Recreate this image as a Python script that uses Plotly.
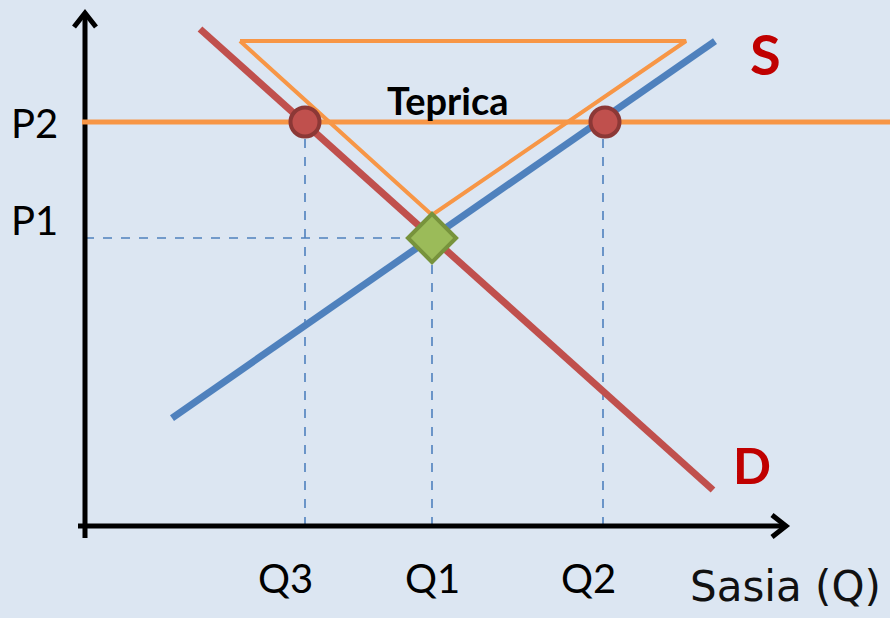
import plotly.graph_objects as go

# Schematic coordinates: quantity to the right, price upward, origin at the axes corner
demand_q = [115, 628]
demand_p = [497, 36]
supply_q = [87, 630]
supply_p = [108, 485]

p_levels = {"P1": 288, "P2": 404}
q_levels = {"Q3": 220, "Q1": 347, "Q2": 518}

p2_line_q = [-3, 805]
triangle_q = [155, 601, 347, 155]
triangle_p = [485, 485, 311, 485]

shortage_q = [220, 520]
equilibrium = (347, 288)

BG = "#dce6f2"
RED = "#c0504d"
BLUE = "#4f81bd"
ORANGE = "#f79646"
FONT = "Lato"

fig = go.Figure()

# dashed guide lines
dash = dict(color=BLUE, width=1.6, dash="dash")
fig.add_trace(go.Scatter(x=[0, q_levels["Q1"]], y=[p_levels["P1"]] * 2, mode="lines", line=dash))
fig.add_trace(go.Scatter(x=[q_levels["Q1"]] * 2, y=[0, p_levels["P1"]], mode="lines", line=dash))
fig.add_trace(go.Scatter(x=[q_levels["Q3"]] * 2, y=[0, p_levels["P2"]], mode="lines", line=dash))
fig.add_trace(go.Scatter(x=[q_levels["Q2"]] * 2, y=[0, p_levels["P2"]], mode="lines", line=dash))

# axes with open arrowheads
axis = dict(color="black", width=5)
fig.add_trace(go.Scatter(x=[0, 0], y=[-12, 513], mode="lines", line=axis))
fig.add_trace(go.Scatter(x=[-11, 0, 11], y=[499, 513, 499], mode="lines", line=axis))
fig.add_trace(go.Scatter(x=[-7, 700], y=[0, 0], mode="lines", line=axis))
fig.add_trace(go.Scatter(x=[687, 701, 687], y=[11, 0, -11], mode="lines", line=axis))

# curves
fig.add_trace(go.Scatter(x=supply_q, y=supply_p, mode="lines", line=dict(color=BLUE, width=7)))
fig.add_trace(go.Scatter(x=demand_q, y=demand_p, mode="lines", line=dict(color=RED, width=7)))
fig.add_trace(go.Scatter(x=p2_line_q, y=[p_levels["P2"]] * 2, mode="lines", line=dict(color=ORANGE, width=5)))
fig.add_trace(go.Scatter(x=triangle_q, y=triangle_p, mode="lines", line=dict(color=ORANGE, width=4)))

# markers
fig.add_trace(go.Scatter(
    x=shortage_q, y=[p_levels["P2"]] * 2, mode="markers",
    marker=dict(size=29, color=RED, line=dict(color="#8c3836", width=4)),
))
fig.add_trace(go.Scatter(
    x=[equilibrium[0]], y=[equilibrium[1]], mode="markers",
    marker=dict(symbol="diamond", size=37, color="#9bbb59", line=dict(color="#77933c", width=4)),
))

# labels
txt = dict(family=FONT, size=40, color="black")
fig.add_annotation(x=-51, y=403, text="P2", showarrow=False, font=txt)
fig.add_annotation(x=-51, y=306, text="P1", showarrow=False, font=txt)
for name, qx in zip(q_levels, [200, 347, 503]):
    fig.add_annotation(x=qx, y=-52, text=name, showarrow=False, font=txt)
fig.add_annotation(x=700, y=-60, text="Sasia (Q)", showarrow=False,
                   font=dict(family="DejaVu Sans", size=42, color="#111111"))
fig.add_annotation(x=680, y=473, text="<b>S</b>", showarrow=False, font=dict(family=FONT, size=56, color="#c00000"))
fig.add_annotation(x=667, y=61, text="<b>D</b>", showarrow=False, font=dict(family=FONT, size=50, color="#c00000"))
fig.add_annotation(x=363, y=426, text="<b>Teprica</b>", showarrow=False, font=dict(family=FONT, size=38, color="black"))

fig.update_layout(
    width=890, height=618,
    margin=dict(l=0, r=0, t=0, b=0),
    paper_bgcolor=BG, plot_bgcolor=BG,
    showlegend=False,
    xaxis=dict(range=[-85, 805], visible=False, fixedrange=True),
    yaxis=dict(range=[-92, 526], visible=False, fixedrange=True),
)

fig.write_html("out.html", config={"displayModeBar": False},
               post_script="document.body.style.margin='0';")
